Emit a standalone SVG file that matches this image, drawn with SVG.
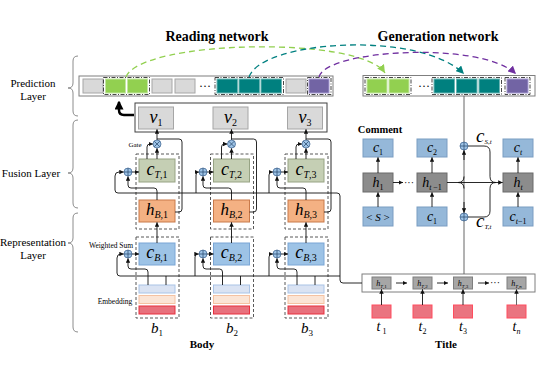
<svg xmlns="http://www.w3.org/2000/svg" width="538" height="382" viewBox="0 0 538 382">
<style>
text{font-family:"Liberation Serif","Times New Roman",serif;fill:#000}
.b{font-weight:bold}
.i{font-style:italic}
.ln{fill:none;stroke:#111;stroke-width:0.9}
.lg{fill:none;stroke:#666;stroke-width:1}
.dash{fill:none;stroke:#595959;stroke-width:1;stroke-dasharray:3 2}
.dd{fill:none;stroke:#333;stroke-width:0.9;stroke-dasharray:4 1.5 1 1.5}
.brace{fill:none;stroke:#8c8c8c;stroke-width:1}
.bar{fill:#fff;stroke:#7f7f7f;stroke-width:1}
.cB{fill:#9dc3e6;stroke:#7aa6d6}
.cT{fill:#c5cfb4;stroke:#97a384}
.hB{fill:#f4b183;stroke:#c97a4a}
.v{fill:#d9d9d9;stroke:#a6a6a6}
.gr{fill:#d9d9d9;stroke:#a6a6a6}
.gn{fill:#92d050;stroke:#c4e6a2}
.tl{fill:#00807f;stroke:#6ab5b4}
.pu{fill:#7264a4;stroke:#a59ad0}
.cc{fill:#95b8d9;stroke:#7a9dc2}
.hh{fill:#8c8c8c;stroke:#6b6b6b}
.ht{fill:#a6a6a6;stroke:#7f7f7f}
.tr{fill:#ea7480;stroke:#ff4d5e}
.e1{fill:#dae3f3;stroke:#aac4e6}
.e2{fill:#fbe5d6;stroke:#f5c2a2}
.e3{fill:#e8717d;stroke:#e8303f}
.arc{fill:none;stroke-width:1.3;stroke-dasharray:6 4}
</style>
<defs>
<marker id="a" viewBox="0 0 6 6" refX="6" refY="3" markerUnits="userSpaceOnUse" markerWidth="4.5" markerHeight="4.5" orient="auto"><path d="M0,0 L6,3 L0,6 z" fill="#111"/></marker>
<marker id="ab" viewBox="0 0 6 6" refX="5" refY="3" markerUnits="userSpaceOnUse" markerWidth="9" markerHeight="9" orient="auto"><path d="M0,0 L6,3 L0,6 z" fill="#000"/></marker>
<marker id="ag" viewBox="0 0 6 6" refX="6" refY="3" markerUnits="userSpaceOnUse" markerWidth="8" markerHeight="8" orient="auto"><path d="M0,0 L6,3 L0,6 z" fill="#92d050"/></marker>
<marker id="at" viewBox="0 0 6 6" refX="6" refY="3" markerUnits="userSpaceOnUse" markerWidth="8" markerHeight="8" orient="auto"><path d="M0,0 L6,3 L0,6 z" fill="#008080"/></marker>
<marker id="ap" viewBox="0 0 6 6" refX="6" refY="3" markerUnits="userSpaceOnUse" markerWidth="8" markerHeight="8" orient="auto"><path d="M0,0 L6,3 L0,6 z" fill="#7030a0"/></marker>
<g id="plus"><circle r="4" fill="#9dc3e6" stroke="#4a6f99" stroke-width="0.8"/><path d="M-4,0 H4 M0,-4 V4" stroke="#2f4f73" stroke-width="0.8"/></g>
<g id="times"><circle r="4" fill="#9dc3e6" stroke="#4a6f99" stroke-width="0.8"/><path d="M-2.8,-2.8 L2.8,2.8 M-2.8,2.8 L2.8,-2.8" stroke="#2f4f73" stroke-width="0.8"/></g>
</defs>

<!-- titles and layer labels -->
<g id="labels">
<text class="b" x="217" y="41" font-size="14" text-anchor="middle">Reading network</text>
<text class="b" x="438" y="41" font-size="14" text-anchor="middle">Generation network</text>
<text x="33" y="87" font-size="11" text-anchor="middle">Prediction</text>
<text x="33" y="100" font-size="11" text-anchor="middle">Layer</text>
<text x="31" y="177" font-size="11" text-anchor="middle">Fusion Layer</text>
<text x="33" y="246" font-size="11" text-anchor="middle">Representation</text>
<text x="33" y="259" font-size="11" text-anchor="middle">Layer</text>
<path class="brace" d="M78,56 Q73,56 73,61 V83 Q73,88 68,88 Q73,88 73,93 V111 Q73,116 78,116"/>
<path class="brace" d="M78,120 Q73,120 73,125 V168 Q73,173 68,173 Q73,173 73,178 V203 Q73,208 78,208"/>
<path class="brace" d="M78,213 Q73,213 73,218 V238 Q73,243 68,243 Q73,243 73,248 V327 Q73,332 78,332"/>
<text x="135" y="147" font-size="7" text-anchor="middle">Gate</text>
<text x="111" y="248" font-size="7.5" text-anchor="middle">Weighted Sum</text>
<text x="115" y="304" font-size="7.5" text-anchor="middle">Embedding</text>
<text class="b" x="202" y="348" font-size="11" text-anchor="middle">Body</text>
<text class="b" x="446" y="348" font-size="11" text-anchor="middle">Title</text>
<text class="b" x="380" y="133" font-size="10.5" text-anchor="middle">Comment</text>
</g>

<!-- prediction layer, reading -->
<g id="pred-reading">
<rect class="bar" x="79" y="76" width="254" height="20"/>
<rect class="gr" x="83" y="79" width="20" height="14"/>
<rect class="gn" x="105.5" y="79" width="20" height="14"/>
<rect class="gn" x="127.5" y="79" width="20" height="14"/>
<rect class="gr" x="152" y="79" width="20" height="14"/>
<rect class="gr" x="175" y="79" width="20" height="14"/>
<text x="205" y="90" font-size="12" text-anchor="middle">···</text>
<rect class="tl" x="217" y="79" width="20.5" height="14"/>
<rect class="tl" x="239" y="79" width="20.5" height="14"/>
<rect class="tl" x="261" y="79" width="20.5" height="14"/>
<rect class="gr" x="286" y="79" width="20" height="14"/>
<rect class="pu" x="309" y="79" width="20" height="14"/>
<rect class="dd" x="103.5" y="77.5" width="46" height="17"/>
<rect class="dd" x="215" y="77.5" width="68.5" height="17"/>
<rect class="dd" x="307.5" y="77.5" width="23.5" height="17"/>
</g>

<!-- prediction layer, generation -->
<g id="pred-generation">
<rect class="bar" x="363" y="75.5" width="172" height="20.5"/>
<rect class="gn" x="367" y="79" width="20" height="14"/>
<rect class="gn" x="389" y="79" width="20" height="14"/>
<text x="424" y="90" font-size="12" text-anchor="middle">···</text>
<rect class="tl" x="434" y="79" width="20.5" height="14"/>
<rect class="tl" x="456.5" y="79" width="20.5" height="14"/>
<rect class="tl" x="479" y="79" width="20.5" height="14"/>
<rect class="pu" x="507" y="79" width="21" height="14"/>
<rect class="dd" x="365" y="77.5" width="46" height="17"/>
<rect class="dd" x="432" y="77.5" width="69.5" height="17"/>
<rect class="dd" x="505" y="77.5" width="25" height="17"/>
</g>

<!-- v box -->
<g id="v-box">
<rect x="135" y="103" width="192" height="29" fill="#fff" stroke="#404040" stroke-width="1"/>
</g>
<g id="v1"><rect class="v" x="138.5" y="107" width="35" height="22"/><text x="156" y="123" text-anchor="middle"><tspan class="i" font-size="18">v</tspan><tspan font-size="10" dy="3">1</tspan></text></g>
<g id="v2"><rect class="v" x="213" y="107" width="35" height="22"/><text x="230.5" y="123" text-anchor="middle"><tspan class="i" font-size="18">v</tspan><tspan font-size="10" dy="3">2</tspan></text></g>
<g id="v3"><rect class="v" x="287.5" y="107" width="35" height="22"/><text x="305" y="123" text-anchor="middle"><tspan class="i" font-size="18">v</tspan><tspan font-size="10" dy="3">3</tspan></text></g>

<!-- fusion boxes -->
<g id="fusion1"><rect class="dash" x="136" y="154" width="43" height="75"/>
<rect class="cT" x="139" y="159" width="36" height="23"/><text x="157" y="175" text-anchor="middle"><tspan class="i" font-size="18">c</tspan><tspan font-size="10" dy="3"><tspan class="i">T</tspan>,1</tspan></text>
<rect class="hB" x="139" y="200" width="36" height="22"/><text x="157" y="215" text-anchor="middle"><tspan class="i" font-size="17">h</tspan><tspan font-size="10" dy="3"><tspan class="i">B</tspan>,1</tspan></text></g>
<g id="fusion2"><rect class="dash" x="210.5" y="154" width="43" height="75"/>
<rect class="cT" x="213.5" y="159" width="36" height="23"/><text x="231.5" y="175" text-anchor="middle"><tspan class="i" font-size="18">c</tspan><tspan font-size="10" dy="3"><tspan class="i">T</tspan>,2</tspan></text>
<rect class="hB" x="213.5" y="200" width="36" height="22"/><text x="231.5" y="215" text-anchor="middle"><tspan class="i" font-size="17">h</tspan><tspan font-size="10" dy="3"><tspan class="i">B</tspan>,2</tspan></text></g>
<g id="fusion3"><rect class="dash" x="285" y="154" width="43" height="75"/>
<rect class="cT" x="288" y="159" width="36" height="23"/><text x="306" y="175" text-anchor="middle"><tspan class="i" font-size="18">c</tspan><tspan font-size="10" dy="3"><tspan class="i">T</tspan>,3</tspan></text>
<rect class="hB" x="288" y="200" width="36" height="22"/><text x="306" y="215" text-anchor="middle"><tspan class="i" font-size="17">h</tspan><tspan font-size="10" dy="3"><tspan class="i">B</tspan>,3</tspan></text></g>

<!-- representation boxes -->
<g id="rep1"><rect class="dash" x="136" y="237" width="43" height="81"/>
<rect class="cB" x="139" y="243" width="36" height="22"/><text x="157" y="258" text-anchor="middle"><tspan class="i" font-size="18">c</tspan><tspan font-size="10" dy="3"><tspan class="i">B</tspan>,1</tspan></text>
<rect class="e1" x="139" y="285" width="36" height="8"/><rect class="e2" x="139" y="295.5" width="36" height="8"/><rect class="e3" x="139" y="306" width="36" height="8"/>
<text x="157" y="333" text-anchor="middle"><tspan class="i" font-size="15">b</tspan><tspan font-size="9" dy="3">1</tspan></text></g>
<g id="rep2"><rect class="dash" x="210.5" y="237" width="43" height="81"/>
<rect class="cB" x="213.5" y="243" width="36" height="22"/><text x="231.5" y="258" text-anchor="middle"><tspan class="i" font-size="18">c</tspan><tspan font-size="10" dy="3"><tspan class="i">B</tspan>,2</tspan></text>
<rect class="e1" x="213.5" y="285" width="36" height="8"/><rect class="e2" x="213.5" y="295.5" width="36" height="8"/><rect class="e3" x="213.5" y="306" width="36" height="8"/>
<text x="232" y="333" text-anchor="middle"><tspan class="i" font-size="15">b</tspan><tspan font-size="9" dy="3">2</tspan></text></g>
<g id="rep3"><rect class="dash" x="285" y="237" width="43" height="81"/>
<rect class="cB" x="288" y="243" width="36" height="22"/><text x="306" y="258" text-anchor="middle"><tspan class="i" font-size="18">c</tspan><tspan font-size="10" dy="3"><tspan class="i">B</tspan>,3</tspan></text>
<rect class="e1" x="288" y="285" width="36" height="8"/><rect class="e2" x="288" y="295.5" width="36" height="8"/><rect class="e3" x="288" y="306" width="36" height="8"/>
<text x="307" y="333" text-anchor="middle"><tspan class="i" font-size="15">b</tspan><tspan font-size="9" dy="3">3</tspan></text></g>

<!-- title encoder -->
<g id="title-enc">
<rect class="bar" x="362" y="274" width="173" height="18" stroke="#555"/>
<rect class="ht" x="372" y="277" width="19" height="12"/><text x="381.5" y="286" text-anchor="middle" fill="#222"><tspan class="i" font-size="8">h</tspan><tspan font-size="5" dy="1.5"><tspan class="i">T</tspan>,1</tspan></text>
<rect class="ht" x="413" y="277" width="19" height="12"/><text x="422.5" y="286" text-anchor="middle" fill="#222"><tspan class="i" font-size="8">h</tspan><tspan font-size="5" dy="1.5"><tspan class="i">T</tspan>,2</tspan></text>
<rect class="ht" x="453.5" y="277" width="19" height="12"/><text x="463" y="286" text-anchor="middle" fill="#222"><tspan class="i" font-size="8">h</tspan><tspan font-size="5" dy="1.5"><tspan class="i">T</tspan>,3</tspan></text>
<rect class="ht" x="507" y="277" width="19" height="12"/><text x="516.5" y="286" text-anchor="middle" fill="#222"><tspan class="i" font-size="8">h</tspan><tspan font-size="5" dy="1.5"><tspan class="i">T</tspan>,<tspan class="i">n</tspan></tspan></text>
<text x="495" y="286" font-size="10" text-anchor="middle">···</text>
</g>
<g id="t1"><rect class="tr" x="372" y="305" width="19" height="13"/><text x="381.5" y="331" text-anchor="middle"><tspan class="i" font-size="14">t</tspan><tspan font-size="8" dy="3"> 1</tspan></text></g>
<g id="t2"><rect class="tr" x="413" y="305" width="19" height="13"/><text x="422.5" y="331" text-anchor="middle"><tspan class="i" font-size="14">t</tspan><tspan font-size="8" dy="3">2</tspan></text></g>
<g id="t3"><rect class="tr" x="453.5" y="305" width="19" height="13"/><text x="463" y="331" text-anchor="middle"><tspan class="i" font-size="14">t</tspan><tspan font-size="8" dy="3">3</tspan></text></g>
<g id="tn"><rect class="tr" x="507" y="305" width="19" height="13"/><text x="516.5" y="331" text-anchor="middle"><tspan class="i" font-size="14">t</tspan><tspan class="i" font-size="8" dy="3">n</tspan></text></g>

<!-- comment decoder -->
<g id="c1top"><rect class="cc" x="363" y="139" width="30" height="18"/><text x="378" y="152" text-anchor="middle"><tspan class="i" font-size="14">c</tspan><tspan font-size="8" dy="2.5">1</tspan></text></g>
<g id="c2top"><rect class="cc" x="417" y="139" width="30" height="18"/><text x="432" y="152" text-anchor="middle"><tspan class="i" font-size="14">c</tspan><tspan font-size="8" dy="2.5">2</tspan></text></g>
<g id="cttop"><rect class="cc" x="503" y="139" width="30" height="18"/><text x="518" y="152" text-anchor="middle"><tspan class="i" font-size="14">c</tspan><tspan class="i" font-size="8" dy="2.5">t</tspan></text></g>
<g id="h1"><rect class="hh" x="363" y="173" width="30" height="19"/><text x="378" y="187" text-anchor="middle"><tspan class="i" font-size="14">h</tspan><tspan font-size="8" dy="2.5">1</tspan></text></g>
<g id="htm1"><rect class="hh" x="417" y="173" width="30" height="19"/><text x="432" y="187" text-anchor="middle"><tspan class="i" font-size="14">h</tspan><tspan font-size="8" dy="2.5"><tspan class="i">t</tspan> −1</tspan></text></g>
<g id="ht"><rect class="hh" x="503" y="173" width="30" height="19"/><text x="518" y="187" text-anchor="middle"><tspan class="i" font-size="14">h</tspan><tspan class="i" font-size="8" dy="2.5">t</tspan></text></g>
<g id="s0"><rect class="cc" x="363" y="207" width="30" height="19"/><text x="378" y="220.5" text-anchor="middle" font-size="11">&lt; <tspan class="i">S</tspan> &gt;</text></g>
<g id="c1bot"><rect class="cc" x="417" y="207" width="30" height="19"/><text x="432" y="221" text-anchor="middle"><tspan class="i" font-size="14">c</tspan><tspan font-size="8" dy="2.5">1</tspan></text></g>
<g id="ctm1"><rect class="cc" x="503" y="207" width="30" height="19"/><text x="518" y="221" text-anchor="middle"><tspan class="i" font-size="14">c</tspan><tspan font-size="8" dy="2.5"><tspan class="i">t</tspan>−1</tspan></text></g>
<text x="409" y="186" font-size="10" text-anchor="middle">···</text>
<text x="476" y="142" class="i" font-size="19">c<tspan font-size="7" dy="2">S,t</tspan></text>
<text x="476" y="227" class="i" font-size="19">c<tspan font-size="7" dy="2">T,t</tspan></text>

<!-- connectors -->
<g id="connectors">
<path class="arc" stroke="#92d050" d="M126,77 C140,40 360,35 385,73" marker-end="url(#ag)"/>
<path class="arc" stroke="#008080" d="M249,77 C262,40 420,30 464,74" marker-end="url(#at)"/>
<path class="arc" stroke="#7030a0" d="M319,77 C325,50 480,40 516,74" marker-end="url(#ap)"/>
<path d="M134,115 H124 Q119,115 119,110 V102" fill="none" stroke="#000" stroke-width="2.5" marker-end="url(#ab)"/>

<!-- fusion buses -->
<path class="ln" d="M115,176 V190 Q115,193 118,193 H337 Q340,193 340,196 V280 Q340,283 343,283 H362"/>
<path class="ln" d="M115,176 Q115,172 119,172 H123.8" marker-end="url(#a)"/>
<path class="ln" d="M196,193 V175 Q196,172 199,172" marker-end="url(#a)"/>
<path class="ln" d="M269,193 V175 Q269,172 272,172 H273" marker-end="url(#a)"/>
<!-- col1 fusion -->
<path class="ln" d="M157,200 V191 Q157,188 154,188 H131 Q128,188 128,185 V176.3" marker-end="url(#a)"/>
<path class="ln" d="M132,172 H139" marker-end="url(#a)"/>
<path class="ln" d="M147,159 V147 Q147,144 150,144 H153" marker-end="url(#a)"/>
<path class="ln" d="M157,159 V148.2" marker-end="url(#a)"/>
<path class="ln" d="M157,140 V129.3" marker-end="url(#a)"/>
<path class="ln" d="M175,212 H179 Q182,212 182,209 V142 Q182,139 179,139 H157"/>
<!-- col2 fusion -->
<path class="ln" d="M231.5,200 V191 Q231.5,188 228.5,188 H206 Q203,188 203,185 V176.3" marker-end="url(#a)"/>
<path class="ln" d="M207,172 H213.5" marker-end="url(#a)"/>
<path class="ln" d="M221.5,159 V147 Q221.5,144 224.5,144 H227.5" marker-end="url(#a)"/>
<path class="ln" d="M231.5,159 V148.2" marker-end="url(#a)"/>
<path class="ln" d="M231.5,140 V129.3" marker-end="url(#a)"/>
<path class="ln" d="M249.5,212 H253.5 Q256.5,212 256.5,209 V142 Q256.5,139 253.5,139 H231.5"/>
<!-- col3 fusion -->
<path class="ln" d="M306,200 V191 Q306,188 303,188 H280 Q277,188 277,185 V176.3" marker-end="url(#a)"/>
<path class="ln" d="M281,172 H288" marker-end="url(#a)"/>
<path class="ln" d="M296,159 V147 Q296,144 299,144 H302" marker-end="url(#a)"/>
<path class="ln" d="M306,159 V148.2" marker-end="url(#a)"/>
<path class="ln" d="M306,140 V129.3" marker-end="url(#a)"/>
<path class="ln" d="M324,212 H328 Q331,212 331,209 V142 Q331,139 328,139 H306"/>

<!-- representation bus -->
<path class="ln" d="M117,258 V273 Q117,276 120,276 H340"/>
<path class="ln" d="M117,258 Q117,254 121,254 H123.8" marker-end="url(#a)"/>
<path class="ln" d="M195,276 V257 Q195,254 198,254 H198.8" marker-end="url(#a)"/>
<path class="ln" d="M269,276 V257 Q269,254 272,254 H273" marker-end="url(#a)"/>
<!-- col1 rep -->
<path class="ln" d="M148,285 V272 Q148,269 145,269 H131 Q128,269 128,266 V258.3" marker-end="url(#a)"/>
<path class="ln" d="M166,285 V276"/>
<path class="ln" d="M132,254 H139" marker-end="url(#a)"/>
<path class="ln" d="M157,243 V222.3" marker-end="url(#a)"/>
<!-- col2 rep -->
<path class="ln" d="M222.5,285 V272 Q222.5,269 219.5,269 H206 Q203,269 203,266 V258.3" marker-end="url(#a)"/>
<path class="ln" d="M240.5,285 V276"/>
<path class="ln" d="M207,254 H213.5" marker-end="url(#a)"/>
<path class="ln" d="M231.5,243 V222.3" marker-end="url(#a)"/>
<!-- col3 rep -->
<path class="ln" d="M297,285 V272 Q297,269 294,269 H280 Q277,269 277,266 V258.3" marker-end="url(#a)"/>
<path class="ln" d="M315,285 V276"/>
<path class="ln" d="M281,254 H288" marker-end="url(#a)"/>
<path class="ln" d="M306,243 V222.3" marker-end="url(#a)"/>

<!-- title encoder arrows -->
<path class="ln" d="M396,283 H407" marker-end="url(#a)"/>
<path class="ln" d="M437,283 H448" marker-end="url(#a)"/>
<path class="ln" d="M478,283 H489" marker-end="url(#a)"/>
<path class="ln" d="M381.5,305 V289.3" marker-end="url(#a)"/>
<path class="ln" d="M422.5,305 V289.3" marker-end="url(#a)"/>
<path class="ln" d="M463,305 V289.3" marker-end="url(#a)"/>
<path class="lg" d="M516.5,305 V289.3" marker-end="url(#a)"/>

<!-- generation vertical -->
<path class="lg" d="M464,96 V274"/>
<path class="ln" d="M464,160 V150.3" marker-end="url(#a)"/>
<path class="ln" d="M464,202 V212.7" marker-end="url(#a)"/>
<path class="ln" d="M458,182.5 Q464,182.5 464,176.5 M458,182.5 Q464,182.5 464,188.5"/>
<path class="ln" d="M447,182.5 H502.7" marker-end="url(#a)"/>
<path class="ln" d="M468,146 H484 Q490,146 490,152 V176.5 Q490,182.5 496,182.5"/>
<path class="ln" d="M468,217 H484 Q490,217 490,211 V188.5 Q490,182.5 496,182.5"/>
<!-- comment decoder arrows -->
<path class="ln" d="M393,182.5 H403" marker-end="url(#a)"/>
<path class="ln" d="M378,207 V192.3" marker-end="url(#a)"/>
<path class="ln" d="M378,173 V157.3" marker-end="url(#a)"/>
<path class="ln" d="M432,207 V192.3" marker-end="url(#a)"/>
<path class="ln" d="M432,173 V157.3" marker-end="url(#a)"/>
<path class="ln" d="M518,207 V192.3" marker-end="url(#a)"/>
<path class="ln" d="M518,173 V157.3" marker-end="url(#a)"/>

<!-- operators -->
<use href="#times" x="157" y="144"/>
<use href="#times" x="231.5" y="144"/>
<use href="#times" x="306" y="144"/>
<use href="#plus" x="128" y="172"/>
<use href="#plus" x="203" y="172"/>
<use href="#plus" x="277" y="172"/>
<use href="#plus" x="128" y="254"/>
<use href="#plus" x="203" y="254"/>
<use href="#plus" x="277" y="254"/>
<use href="#plus" x="464" y="146"/>
<use href="#plus" x="464" y="217"/>
</g>
</svg>
